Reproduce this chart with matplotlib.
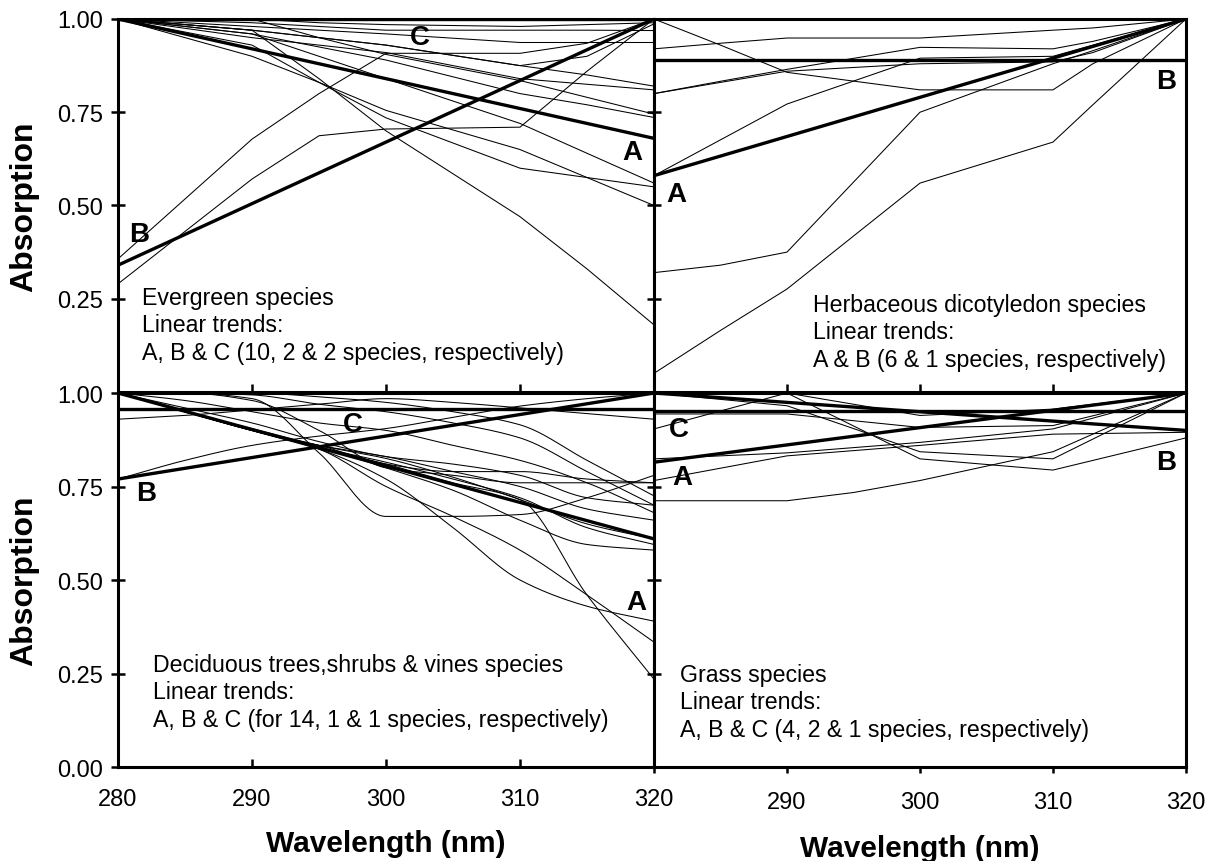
import matplotlib
matplotlib.use("agg")
import matplotlib.pyplot as plt
import numpy as np

plt.rcParams['font.family'] = ['Liberation Sans', 'DejaVu Sans']

# wavelengths (nm) at which each species curve was read
evergreen_nm = [280, 290, 295, 300, 310, 315, 320]
herb_nm = [280, 285, 290, 300, 310, 313, 320]
decid_nm = [280, 285, 290, 295, 300, 305, 310, 315, 320]
grass_nm = [280, 290, 295, 300, 310, 320]

# relative absorption, one list per species
evergreen_species = [
    [1.00, 0.97, 0.84, 0.70, 0.47, 0.33, 0.18],
    [1.00, 0.90, 0.83, 0.755, 0.65, 0.575, 0.50],
    [1.00, 0.93, 0.83, 0.735, 0.60, 0.575, 0.55],
    [1.00, 1.00, 0.95, 0.905, 0.835, 0.79, 0.745],
    [1.00, 0.97, 0.95, 0.93, 0.875, 0.85, 0.82],
    [1.00, 0.95, 0.93, 0.91, 0.84, 0.825, 0.81],
    [1.00, 0.96, 0.925, 0.89, 0.80, 0.77, 0.736],
    [1.00, 0.96, 0.90, 0.84, 0.72, 0.64, 0.56],
    [1.00, 0.97, 0.95, 0.93, 0.875, 0.90, 0.987],
    [1.00, 0.98, 0.97, 0.96, 0.937, 0.937, 0.937],
    [1.00, 0.99, 0.98, 0.97, 0.97, 0.97, 0.969],
    [1.00, 1.00, 0.99, 0.985, 0.98, 0.985, 0.99],
    [0.357, 0.678, 0.80, 0.908, 0.908, 0.935, 1.00],
    [0.29, 0.571, 0.687, 0.705, 0.71, 0.86, 1.00],
]

herb_species = [
    [1.00, 0.93, 0.857, 0.81, 0.81, 0.88, 1.00],
    [0.92, 0.935, 0.949, 0.949, 0.97, 0.976, 1.00],
    [0.80, 0.833, 0.865, 0.924, 0.92, 0.94, 1.00],
    [0.80, 0.83, 0.86, 0.88, 0.885, 0.91, 1.00],
    [0.58, 0.676, 0.772, 0.895, 0.90, 0.93, 1.00],
    [0.32, 0.34, 0.375, 0.75, 0.88, 0.915, 1.00],
    [0.05, 0.165, 0.276, 0.56, 0.67, 0.77, 1.00],
]

decid_species = [
    [0.93, 0.94, 0.955, 0.97, 0.985, 0.975, 0.96, 0.945, 0.93],
    [0.77, 0.82, 0.86, 0.885, 0.905, 0.935, 0.965, 0.985, 1.00],
    [1.00, 1.00, 1.00, 0.99, 0.975, 0.95, 0.915, 0.82, 0.725],
    [1.00, 1.00, 0.995, 0.97, 0.95, 0.92, 0.88, 0.79, 0.70],
    [1.00, 0.98, 0.95, 0.92, 0.90, 0.86, 0.82, 0.76, 0.68],
    [1.00, 1.00, 0.98, 0.90, 0.80, 0.78, 0.76, 0.76, 0.76],
    [1.00, 0.95, 0.90, 0.86, 0.81, 0.79, 0.79, 0.77, 0.76],
    [1.00, 1.00, 0.985, 0.84, 0.67, 0.67, 0.675, 0.72, 0.78],
    [1.00, 0.95, 0.90, 0.855, 0.81, 0.76, 0.715, 0.46, 0.235],
    [1.00, 0.95, 0.90, 0.85, 0.77, 0.64, 0.50, 0.43, 0.39],
    [1.00, 0.95, 0.90, 0.85, 0.75, 0.67, 0.58, 0.46, 0.334],
    [1.00, 0.95, 0.90, 0.855, 0.80, 0.74, 0.66, 0.595, 0.58],
    [1.00, 0.95, 0.90, 0.855, 0.815, 0.77, 0.72, 0.64, 0.595],
    [1.00, 0.95, 0.90, 0.86, 0.83, 0.79, 0.75, 0.69, 0.66],
    [1.00, 0.96, 0.92, 0.87, 0.83, 0.81, 0.78, 0.72, 0.70],
    [1.00, 0.95, 0.905, 0.86, 0.825, 0.775, 0.715, 0.65, 0.61],
]

grass_species = [
    [0.712, 0.712, 0.734, 0.766, 0.843, 1.00],
    [0.766, 0.832, 0.846, 0.86, 0.89, 0.895],
    [0.824, 0.84, 0.854, 0.868, 0.904, 1.00],
    [0.944, 0.944, 0.926, 0.908, 0.913, 1.00],
    [0.904, 1.00, 0.912, 0.824, 0.794, 0.88],
    [1.00, 0.966, 0.905, 0.843, 0.824, 1.00],
    [1.00, 1.00, 0.97, 0.94, 0.957, 1.00],
]

# linear trends: value at 280 nm and at 320 nm
trend_nm = [280, 320]
evergreen_trends = {'A': [1.00, 0.68], 'B': [0.34, 1.00], 'C': [1.00, 1.00]}
herb_trends = {'A': [0.58, 1.00], 'B': [0.89, 0.89]}
decid_trends = {'A': [1.00, 0.61], 'B': [0.77, 1.00], 'C': [0.957, 0.957]}
grass_trends = {'A': [0.815, 1.00], 'B': [1.00, 0.90], 'C': [0.952, 0.952]}

# trend letters (nm, absorption)
evergreen_letters = {'A': (318.4, 0.643), 'B': (281.6, 0.424), 'C': (302.5, 0.951)}
herb_letters = {'A': (281.7, 0.531), 'B': (318.5, 0.834)}
decid_letters = {'A': (318.7, 0.441), 'B': (282.1, 0.733), 'C': (297.5, 0.917)}
grass_letters = {'A': (282.1, 0.775), 'B': (318.5, 0.816), 'C': (281.9, 0.904)}

notes = [
    "Evergreen species\nLinear trends:\nA, B & C (10, 2 & 2 species, respectively)",
    "Herbaceous dicotyledon species\nLinear trends:\nA & B (6 & 1 species, respectively)",
    "Deciduous trees,shrubs & vines species\nLinear trends:\nA, B & C (for 14, 1 & 1 species, respectively)",
    "Grass species\nLinear trends:\nA, B & C (4, 2 & 1 species, respectively)",
]


def smooth(x, y, n=200):
    # monotone cubic hermite through the points, for the rounded curves
    x = np.asarray(x, float)
    y = np.asarray(y, float)
    h = np.diff(x)
    d = np.diff(y) / h
    m = np.zeros_like(y)
    m[0], m[-1] = d[0], d[-1]
    for i in range(1, len(y) - 1):
        if d[i - 1] * d[i] > 0:
            w1 = 2 * h[i] + h[i - 1]
            w2 = h[i] + 2 * h[i - 1]
            m[i] = (w1 + w2) / (w1 / d[i - 1] + w2 / d[i])
    xs = np.linspace(x[0], x[-1], n)
    k = np.clip(np.searchsorted(x, xs) - 1, 0, len(x) - 2)
    t = (xs - x[k]) / h[k]
    ys = ((2 * t**3 - 3 * t**2 + 1) * y[k] + (t**3 - 2 * t**2 + t) * h[k] * m[k]
          + (-2 * t**3 + 3 * t**2) * y[k + 1] + (t**3 - t**2) * h[k] * m[k + 1])
    return xs, ys


fig = plt.figure(figsize=(12.12, 8.62), dpi=100)
ax_ev = fig.add_axes([0.0974, 0.5441, 0.4422, 0.4327])
ax_he = fig.add_axes([0.5396, 0.5441, 0.4389, 0.4327])
ax_de = fig.add_axes([0.0974, 0.1090, 0.4422, 0.4339])
ax_gr = fig.add_axes([0.5396, 0.1090, 0.4389, 0.4339])

panels = [
    (ax_ev, evergreen_nm, evergreen_species, evergreen_trends, evergreen_letters, False),
    (ax_he, herb_nm, herb_species, herb_trends, herb_letters, False),
    (ax_de, decid_nm, decid_species, decid_trends, decid_letters, True),
    (ax_gr, grass_nm, grass_species, grass_trends, grass_letters, False),
]

for ax, nm, species, trends, letters, curved in panels:
    for vals in species:
        if curved:
            xs, ys = smooth(nm, vals)
        else:
            xs, ys = nm, vals
        ax.plot(xs, ys, color='black', lw=0.75)
    for key, ends in trends.items():
        ax.plot(trend_nm, ends, color='black', lw=2.4, solid_capstyle='butt')
    for key, (lx, ly) in letters.items():
        ax.text(lx, ly, key, fontsize=20, fontweight='bold', ha='center', va='center')
    ax.set_xlim(280, 320)
    ax.set_ylim(0, 1)
    ax.set_xticks([280, 290, 300, 310, 320])
    for sp in ax.spines.values():
        sp.set_linewidth(2.2)
        sp.set_zorder(5)
    ax.tick_params(axis='y', direction='inout', length=10, width=1.8, pad=6, labelsize=17)
    ax.tick_params(axis='x', direction='in', length=6, width=1.8, pad=15, labelsize=17)

# panel notes
note_pos = [(ax_ev, 0.045, 0.284), (ax_he, 0.299, 0.265), (ax_de, 0.066, 0.305), (ax_gr, 0.049, 0.278)]
for (ax, tx, ty), note in zip(note_pos, notes):
    ax.text(tx, ty, note, transform=ax.transAxes, fontsize=16.7, va='top', ha='left', linespacing=1.24)

ax_ev.set_yticks([0.25, 0.5, 0.75, 1.0])
ax_ev.set_yticklabels(['0.25', '0.50', '0.75', '1.00'])
ax_de.set_yticks([0, 0.25, 0.5, 0.75, 1.0])
ax_de.set_yticklabels(['0.00', '0.25', '0.50', '0.75', '1.00'])
for ax in (ax_he, ax_gr):
    ax.set_yticks([0.25, 0.5, 0.75])
    ax.tick_params(axis='y', labelleft=False)
for ax in (ax_ev, ax_he):
    ax.tick_params(axis='x', labelbottom=False)

ax_gr.tick_params(axis='x', direction='out', length=4, pad=13)
ax_gr.set_xticklabels(['', '290', '300', '310', '320'])

for ax in (ax_ev, ax_de):
    ax.set_ylabel('Absorption', fontsize=23, fontweight='bold')
    ax.yaxis.set_label_coords(-0.148, 0.5)
for ax, ly in ((ax_de, -0.166), (ax_gr, -0.180)):
    ax.set_xlabel('Wavelength (nm)', fontsize=21.5, fontweight='bold')
    ax.xaxis.set_label_coords(0.5, ly)

fig.savefig('out.png', dpi=100)
